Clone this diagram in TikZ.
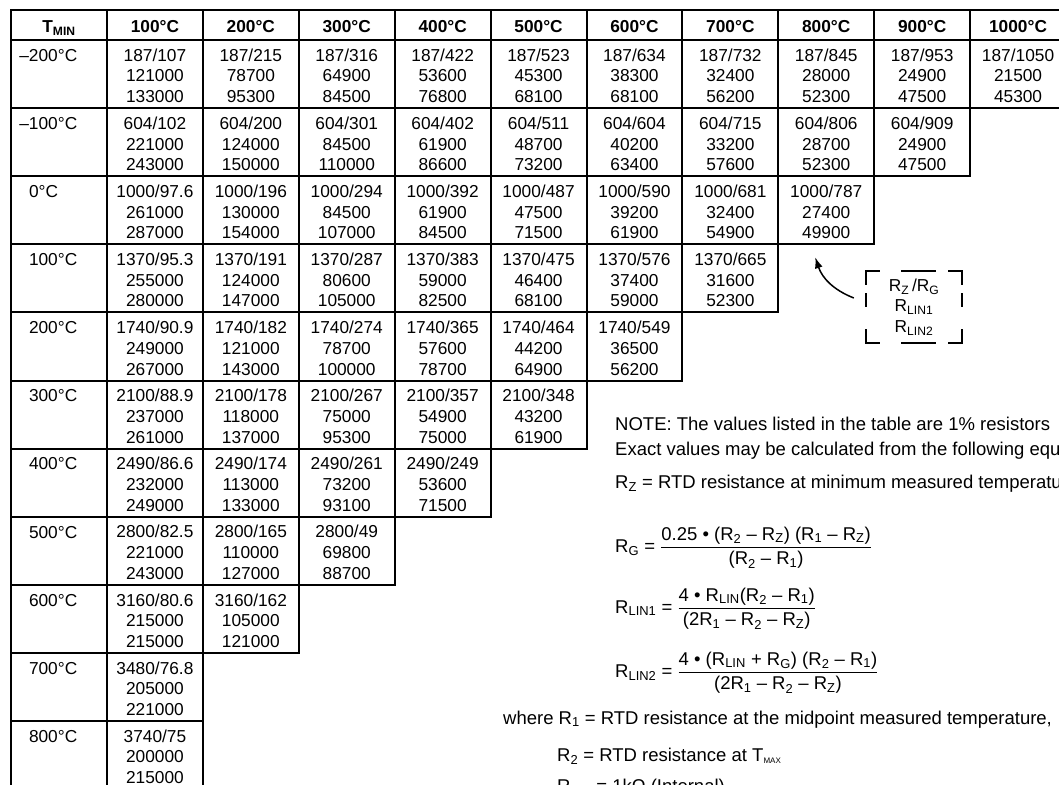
\documentclass[tikz,border=0pt]{standalone}
\usepackage{amssymb, amsmath}
\usepackage{fontspec}
\setmainfont{Liberation Sans}
\usepackage{tikz}
\usetikzlibrary{arrows.meta}

\newcommand\cellstrut{\rule{0pt}{16pt}}
\newcommand\Rs[1]{R\textsubscript{#1}}
\newcommand\eqfrac[2]{$\genfrac{}{}{1.1pt}{0}{\text{#1}}{\text{#2}}$}

\tikzset{
  tcell/.style={draw, line width=2pt, inner sep=0pt, anchor=north west,
    minimum height=68.1pt, align=center,
    font=\fontsize{17.3}{20.7}\selectfont},
  datacell/.style={tcell, minimum width=95.9pt},
  tmincell/.style={tcell, minimum width=96pt, text width=60pt, align=left},
  headcell/.style={tcell, minimum width=95.9pt, minimum height=30pt,
    font=\fontsize{17.3}{20.7}\selectfont\bfseries, text height=15.4pt, text depth=0pt},
  legendbox/.style={minimum width=96pt, minimum height=72pt, inner sep=0pt,
    align=center, font=\fontsize{17.3}{20.5}\selectfont},
  legframe/.style={line width=2pt},
  pointer/.style={line width=1.5pt, -{Latex[length=11pt, width=8pt]}},
  notetext/.style={anchor=base west, inner sep=0pt, font=\fontsize{18.5}{22}\selectfont},
}

\begin{document}
\begin{tikzpicture}[x=1pt, y=-1pt]
  \useasboundingbox (0,0) rectangle (1059,784);
  \clip (0,0) rectangle (1059,784);

  % header row
  \node[headcell, minimum width=96pt] (h-0) at (10,9) {T\textsubscript{MIN}};
  \foreach \tm [count=\j] in {100,200,...,1000}
    \node[headcell] (h-\j) at ({106+(\j-1)*95.9},9) {\tm°C};

  % T_MIN column
  \foreach \tm [count=\i] in {\llap{–}200,\llap{–}100,0,100,200,300,400,500,600,700,800}
    \node[tmincell] (t-\i) at (10,{39+(\i-1)*68.1}) {\cellstrut\tm°C\\~\\~};

  % RZ/RG, RLIN1, RLIN2 per cell
  \def\datarow#1#2{
    \foreach \rz/\rg/\lina/\linb [count=\j] in {#2}
      \node[datacell] (c-#1-\j) at ({106+(\j-1)*95.9},{39+(#1-1)*68.1}) {\cellstrut\rz/\rg\\\lina\\\linb};
  }
  \datarow{1}{187/107/121000/133000, 187/215/78700/95300, 187/316/64900/84500,
    187/422/53600/76800, 187/523/45300/68100, 187/634/38300/68100, 187/732/32400/56200,
    187/845/28000/52300, 187/953/24900/47500, 187/1050/21500/45300}
  \datarow{2}{604/102/221000/243000, 604/200/124000/150000, 604/301/84500/110000,
    604/402/61900/86600, 604/511/48700/73200, 604/604/40200/63400, 604/715/33200/57600,
    604/806/28700/52300, 604/909/24900/47500}
  \datarow{3}{1000/97.6/261000/287000, 1000/196/130000/154000, 1000/294/84500/107000,
    1000/392/61900/84500, 1000/487/47500/71500, 1000/590/39200/61900, 1000/681/32400/54900,
    1000/787/27400/49900}
  \datarow{4}{1370/95.3/255000/280000, 1370/191/124000/147000, 1370/287/80600/105000,
    1370/383/59000/82500, 1370/475/46400/68100, 1370/576/37400/59000, 1370/665/31600/52300}
  \datarow{5}{1740/90.9/249000/267000, 1740/182/121000/143000, 1740/274/78700/100000,
    1740/365/57600/78700, 1740/464/44200/64900, 1740/549/36500/56200}
  \datarow{6}{2100/88.9/237000/261000, 2100/178/118000/137000, 2100/267/75000/95300,
    2100/357/54900/75000, 2100/348/43200/61900}
  \datarow{7}{2490/86.6/232000/249000, 2490/174/113000/133000, 2490/261/73200/93100,
    2490/249/53600/71500}
  \datarow{8}{2800/82.5/221000/243000, 2800/165/110000/127000, 2800/49/69800/88700}
  \datarow{9}{3160/80.6/215000/215000, 3160/162/105000/121000}
  \datarow{10}{3480/76.8/205000/221000}
  \datarow{11}{3740/75/200000/215000}

  % legend
  \node[legendbox] (legend) at (914,307) {\Rs{Z}\,/\Rs{G}\\\Rs{LIN1}\\\Rs{LIN2}};
  \foreach \corner/\dx/\dy in {north west/14/-14, north east/-14/-14, south east/-14/14, south west/14/14}
    \draw[legframe] ([yshift=\dy pt]legend.\corner) -- (legend.\corner) -- ([xshift=\dx pt]legend.\corner);
  \draw[legframe] ([xshift=-13pt]legend.north) -- ([xshift=22pt]legend.north)
    ([xshift=-13pt]legend.south) -- ([xshift=22pt]legend.south)
    ([yshift=14pt]legend.west) -- (legend.west)
    ([yshift=14pt]legend.east) -- (legend.east);
  \coordinate (tail) at ([shift={(-12,-9)}]legend.west);
  \coordinate (tip) at ([shift={(-11,12)}]c-3-8.south);
  \draw[pointer] (tail) to[bend left=25] (tip);

  % notes and equations
  \node[notetext] (note) at (615,430.6) {NOTE: The values listed in the table are 1\% resistors};
  \node[notetext] (exact) at (615,455) {Exact values may be calculated from the following equations:};
  \node[notetext] (rz) at (615,488.6) {\Rs{Z} = RTD resistance at minimum measured temperature.};
  \node[notetext] (rg) at (615,552) {\Rs{G} = \eqfrac{0.25 \textbullet{} (\Rs{2} – \Rs{Z}) (\Rs{1} – \Rs{Z})}{(\Rs{2} – \Rs{1})}};
  \node[notetext] (rlin1) at (615,613) {\Rs{LIN1} = \eqfrac{4 \textbullet{} \Rs{LIN}(\Rs{2} – \Rs{1})}{(2\Rs{1} – \Rs{2} – \Rs{Z})}};
  \node[notetext] (rlin2) at (615,677) {\Rs{LIN2} = \eqfrac{4 \textbullet{} (\Rs{LIN} + \Rs{G}) (\Rs{2} – \Rs{1})}{(2\Rs{1} – \Rs{2} – \Rs{Z})}};
  \node[notetext] (r1) at (503,724) {where \Rs{1} = RTD resistance at the midpoint measured temperature,};
  \node[notetext] (r2) at (557,761) {\Rs{2} = RTD resistance at T\textsubscript{\fontsize{8}{8}\selectfont MAX}};
  \node[notetext] (rlin) at (557,792) {\Rs{LIN} = 1kΩ (Internal)};
\end{tikzpicture}
\end{document}
